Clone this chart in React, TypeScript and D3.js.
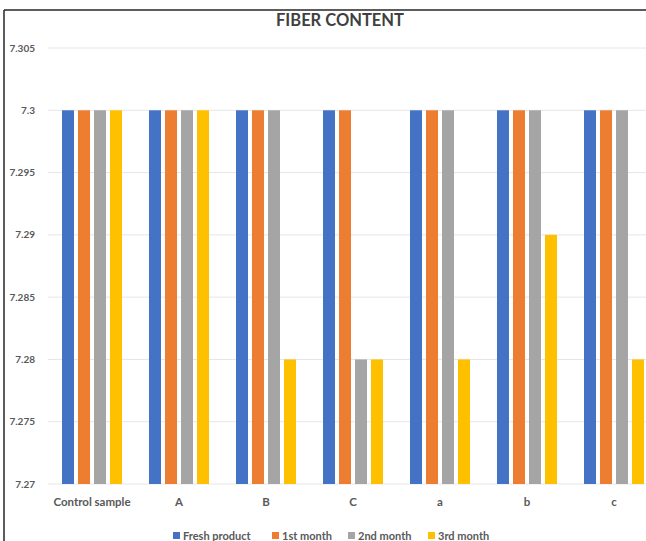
import React from "react";
import * as d3 from "d3";

const categories = ["Control sample", "A", "B", "C", "a", "b", "c"];
const seriesNames = ["Fresh product", "1st month", "2nd month", "3rd month"];
const freshProduct = [7.3, 7.3, 7.3, 7.3, 7.3, 7.3, 7.3];
const month1 = [7.3, 7.3, 7.3, 7.3, 7.3, 7.3, 7.3];
const month2 = [7.3, 7.3, 7.3, 7.28, 7.3, 7.3, 7.3];
const month3 = [7.3, 7.3, 7.28, 7.28, 7.28, 7.29, 7.28];
const yTicks = [7.27, 7.275, 7.28, 7.285, 7.29, 7.295, 7.3, 7.305];
const colors = ["#4472C4", "#ED7D31", "#A5A5A5", "#FFC000"];

const W = 646;
const H = 541;

export default function App() {
  const values = [freshProduct, month1, month2, month3];
  const y = d3.scaleLinear().domain([7.27, 7.305]).range([484, 48]);
  const x0 = d3.scaleBand<string>().domain(categories).range([48.5, 657.5]).paddingInner(0).paddingOuter(0);
  const groupW = 60;
  const x1 = d3.scaleBand<string>().domain(seriesNames).range([0, groupW]).paddingInner(0.25).paddingOuter(0);
  const font = "Lato, 'Open Sans', sans-serif";
  const legendX = [173, 272, 348, 428];

  return (
    <svg width={W} height={H} style={{ position: "absolute", left: 0, top: 0, background: "#fff" }} fontFamily={font}>
      <rect x={0} y={0} width={W} height={H} fill="#fff" />
      {yTicks.map((t) => (
        <g key={t}>
          <line x1={48} x2={W} y1={y(t)} y2={y(t)} stroke="#E6E6E6" strokeWidth={1} />
          <text x={35} y={y(t)} dy="0.35em" textAnchor="end" fontSize={10} fontWeight="bold" fill="#595959">
            {String(+t.toFixed(3))}
          </text>
        </g>
      ))}
      {categories.map((c, ci) => {
        const gx = (x0(c) as number) + (x0.bandwidth() - groupW) / 2;
        return (
          <g key={c}>
            {seriesNames.map((s, si) => {
              const v = values[si][ci];
              return (
                <rect
                  key={s}
                  x={gx + (x1(s) as number)}
                  y={y(v)}
                  width={x1.bandwidth()}
                  height={y(7.27) - y(v)}
                  fill={colors[si]}
                />
              );
            })}
            <text
              x={(x0(c) as number) + x0.bandwidth() / 2}
              y={506}
              textAnchor="middle"
              fontSize={11.5}
              fontWeight="bold"
              fill="#595959"
            >
              {c}
            </text>
          </g>
        );
      })}
      <text x={340} y={26} textAnchor="middle" fontSize={16.5} fontWeight="bold" fill="#404040">
        FIBER CONTENT
      </text>
      {seriesNames.map((s, si) => (
        <g key={s}>
          <rect x={legendX[si]} y={532} width={7} height={7} fill={colors[si]} />
          <text x={legendX[si] + 10} y={539.5} fontSize={11} fontWeight="bold" fill="#595959">
            {s}
          </text>
        </g>
      ))}
      <line x1={4} x2={W} y1={10} y2={10} stroke="#262626" strokeWidth={1.5} />
      <line x1={4} x2={4} y1={10} y2={H} stroke="#262626" strokeWidth={1.5} />
    </svg>
  );
}
